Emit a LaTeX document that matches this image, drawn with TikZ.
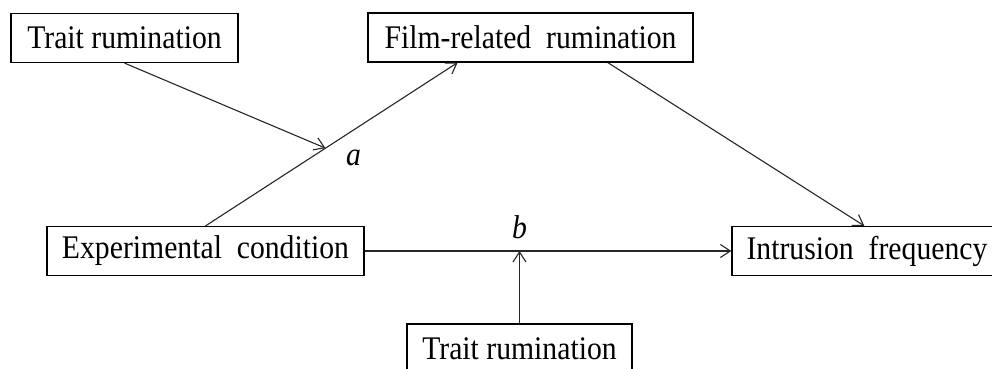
\documentclass[tikz,border=0pt]{standalone}
\usepackage{fontspec}
\setmainfont{Liberation Serif}[FakeStretch=0.9]
\usetikzlibrary{arrows.meta,positioning}

\begin{document}
\begin{tikzpicture}[x=0.5pt,y=0.5pt,>={Straight Barb[length=5pt,width=6.5pt]},
  box/.style={draw,line width=0.6pt,inner sep=0pt,minimum height=24.5pt,font=\fontsize{16.5}{18}\selectfont},
  link/.style={->,line width=0.55pt,black!85}]
  \useasboundingbox (0,0) rectangle (992,369);
  % The boxes
  \node[box,minimum width=113.5pt] (trait) at (124.5,331) {Trait rumination};
  \node[box,minimum width=162.5pt] (film) at (530.5,331.5) {Film-related\ \ rumination};
  \node[box,minimum width=158.5pt] (cond) at (205.5,118) {Experimental\ \ condition};
  \node[box,minimum width=140pt] (intr) at (872,118) {Intrusion\ \ frequency\hspace*{5pt}};
  \node[box,minimum width=112.5pt,minimum height=25pt] (traitb) at (519.5,20) {Trait rumination};
  % The paths
  \draw[link] (cond.north) -- coordinate[pos=0.476] (ma) (film.199);
  \draw[link] (film.342) -- (intr.107);
  \draw[link] (cond.east) -- (cond.east -| intr.west);
  % The moderators
  \coordinate (mb) at (traitb.north |- cond.east);
  \draw[link] (trait.south) -- (ma);
  \draw[link] (traitb.north) -- (mb);
  % The labels
  \node[font=\fontsize{16.5}{18}\selectfont] (la) at ([xshift=14pt,yshift=-5pt]ma) {\textit{a}};
  \node[font=\fontsize{16.5}{18}\selectfont] (lb) at ([yshift=12pt]mb) {\textit{b}};
\end{tikzpicture}
\end{document}
